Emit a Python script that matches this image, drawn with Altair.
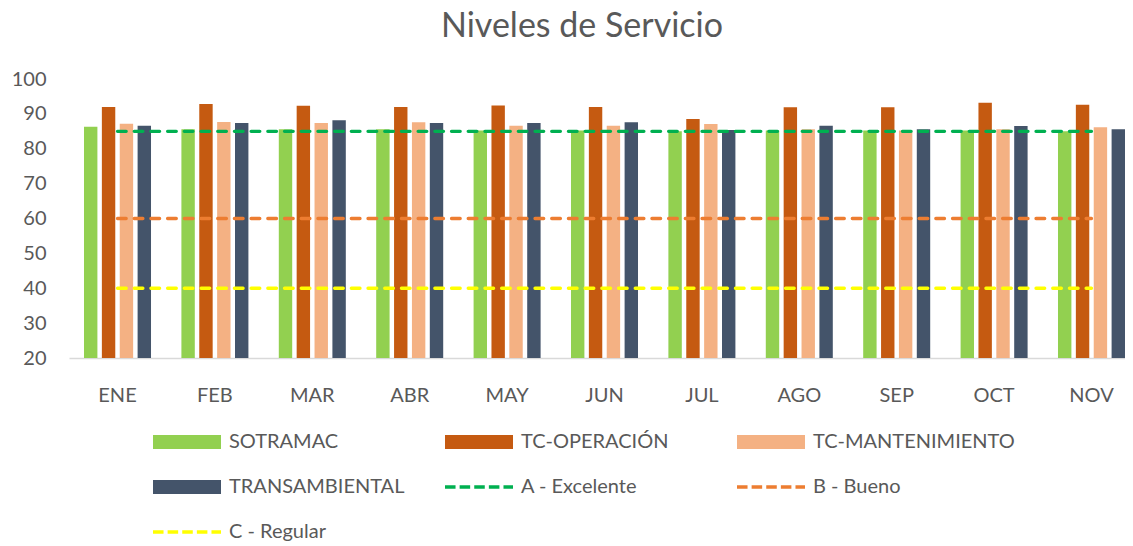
import altair as alt
import pandas as pd

# ---------------- data ----------------
meses = ["ENE", "FEB", "MAR", "ABR", "MAY", "JUN", "JUL", "AGO", "SEP", "OCT", "NOV"]

series_barras = ["SOTRAMAC", "TC-OPERACIÓN", "TC-MANTENIMIENTO", "TRANSAMBIENTAL"]
sotramac = [86.3, 85.6, 85.6, 85.6, 85.2, 85.2, 85.0, 85.2, 85.2, 85.2, 85.0]
tc_operacion = [92.0, 92.8, 92.3, 92.0, 92.4, 92.0, 88.5, 91.9, 91.9, 93.2, 92.6]
tc_mantenimiento = [87.2, 87.7, 87.4, 87.6, 86.6, 86.6, 87.1, 85.6, 85.2, 85.6, 86.2]
transambiental = [86.6, 87.4, 88.2, 87.4, 87.4, 87.6, 85.4, 86.6, 85.6, 86.5, 85.6]

niveles = ["A - Excelente", "B - Bueno", "C - Regular"]
niveles_valor = [85, 60, 40]

colores_barras = ["#92D050", "#C55A11", "#F4B183", "#44546A"]
colores_niveles = ["#00B050", "#ED7D31", "#FFFF00"]

todas = series_barras + niveles
colores = colores_barras + colores_niveles

# ---------------- tables ----------------
filas_barras = []
for s, vals in zip(series_barras, [sotramac, tc_operacion, tc_mantenimiento, transambiental]):
    for m, v in zip(meses, vals):
        filas_barras.append({"mes": m, "serie": s, "valor": v})
df_barras = pd.DataFrame(filas_barras)

filas_niveles = []
for n, v in zip(niveles, niveles_valor):
    for m in meses:
        filas_niveles.append({"mes": m, "serie": n, "valor": v})
df_niveles = pd.DataFrame(filas_niveles)

df_leyenda = pd.DataFrame({"serie": todas})

# ---------------- legend symbols (custom shapes) ----------------
rect_path = "M-1,-0.206H1V0.206H-1Z"
segs = []
x0 = -1.0
while x0 < 1.0:
    x1 = min(x0 + 0.31, 1.0)
    segs.append(f"M{x0:.3f},-0.05H{x1:.3f}V0.05H{x0:.3f}Z")
    x0 = x1 + 0.12
dash_path = "".join(segs)
formas = [rect_path] * len(series_barras) + [dash_path] * len(niveles)

FONT = "Lato"
GRIS = "#595959"

color_scale = alt.Scale(domain=todas, range=colores)
shape_scale = alt.Scale(domain=todas, range=formas)

leyenda = alt.Legend(
    title=None, orient="none", legendX=84, legendY=349, direction="horizontal",
    columns=3, columnPadding=14, rowPadding=17, gridAlign="all",
    clipHeight=28, symbolSize=4624, symbolOpacity=1, symbolStrokeWidth=0,
    labelFont=FONT, labelFontSize=20, labelColor=GRIS, labelOffset=8,
    labelLimit=400, padding=0,
)

x_enc = alt.X(
    "mes:N",
    sort=meses,
    scale=alt.Scale(paddingInner=0.312, paddingOuter=0.077, align=1),
    axis=alt.Axis(
        title=None, labelAngle=0, ticks=False, tickSize=0,
        domain=True, domainColor="#D9D9D9", domainWidth=1.5,
        labelFont=FONT, labelFontSize=20, labelColor=GRIS, labelPadding=27,
    ),
)
y_enc = alt.Y(
    "valor:Q",
    scale=alt.Scale(domain=[20, 100], nice=False, zero=False, clamp=True),
    axis=alt.Axis(
        title=None, values=[20, 30, 40, 50, 60, 70, 80, 90, 100],
        grid=False, domain=False, ticks=False, tickSize=0,
        labelFont=FONT, labelFontSize=20, labelColor=GRIS, labelPadding=23,
    ),
)
color_enc = alt.Color("serie:N", scale=color_scale, legend=leyenda)

barras = alt.Chart(df_barras).mark_bar().encode(
    x=x_enc,
    xOffset=alt.XOffset("serie:N", sort=series_barras,
                        scale=alt.Scale(paddingInner=0.25, paddingOuter=0)),
    y=y_enc,
    color=color_enc,
)

lineas = alt.Chart(df_niveles).mark_line(
    strokeWidth=3.3, strokeDash=[8.7, 8], strokeCap="round"
).encode(
    x=x_enc,
    y=y_enc,
    color=color_enc,
)

puntos = alt.Chart(df_leyenda).mark_point(filled=True, opacity=0).encode(
    color=color_enc,
    shape=alt.Shape("serie:N", scale=shape_scale, legend=leyenda),
)

chart = alt.layer(barras, lineas, puntos).properties(
    width=1056,
    height=279,
    autosize=alt.AutoSizeParams(type="none"),
    padding={"left": 61, "top": 71, "right": 0, "bottom": 188},
    title=alt.TitleParams(
        "Niveles de Servicio", font=FONT, fontSize=34, fontWeight="normal",
        color=GRIS, anchor="middle", frame="group", dx=-15, offset=25,
    ),
).configure_view(stroke=None)

chart.save("out.html", embed_options={"renderer": "svg", "actions": False})
